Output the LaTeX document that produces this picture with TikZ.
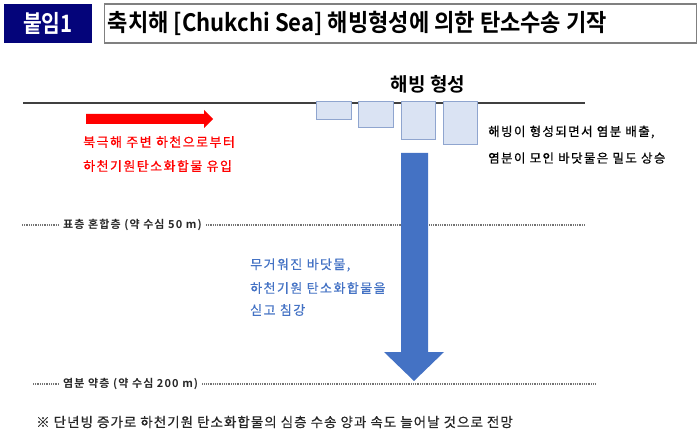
\documentclass[tikz,border=0pt]{standalone}
\usepackage{fontspec}
\setmainfont{Noto Sans CJK KR}[BoldFont={Noto Sans CJK KR Bold}]
\newfontfamily\headfont{Noto Sans CJK KR Bold}[FakeStretch=0.92]
\newfontfamily\tagfont{Noto Sans CJK KR Bold}[FakeStretch=0.85]
\newfontfamily\depthfont{Noto Sans CJK KR Bold}[LetterSpace=10]
\newfontfamily\bodyfont{Noto Sans CJK KR}[LetterSpace=11,FakeBold=0.6]
\newfontfamily\notefont{Noto Sans CJK KR}[LetterSpace=7.5,FakeBold=0.6]
\usetikzlibrary{positioning}

\definecolor{navybox}{HTML}{04047A}
\definecolor{frameedge}{HTML}{808080}
\definecolor{icefill}{HTML}{DAE3F3}
\definecolor{iceedge}{HTML}{8FA5CF}
\definecolor{sinkblue}{HTML}{4472C4}
\definecolor{riverred}{HTML}{FF0000}
\definecolor{seaedge}{HTML}{404040}

\begin{document}
\begin{tikzpicture}
    [%%%%%%%%%%%%%%%%%%%%%%%%%%%%%%
    x=1pt, y=-1pt,
    icebox/.style={rectangle,draw=iceedge,fill=icefill,line width=1pt,anchor=north west,inner sep=0pt},
    plaintext/.style={anchor=west,inner sep=0pt},
    depthtext/.style={inner sep=4pt,text=black!85,font=\depthfont\fontsize{11}{13}\selectfont},
    dotline/.style={draw=black!55,line width=1.3pt,dash pattern=on 0.9pt off 0.9pt},
    ]%%%%%%%%%%%%%%%%%%%%%%%%%%%%%%

    \useasboundingbox (0,0) rectangle (700,443);

    % title
    \node[rectangle,fill=navybox,minimum width=88,minimum height=39,inner sep=0pt] at (48,23.5)(tag){};
    \node[text=white,font=\tagfont\fontsize{24}{26}\selectfont] at (tag)(tag_text){붙임1};
    \node[rectangle,draw=frameedge,line width=1.5pt,minimum width=592,minimum height=39,inner sep=0pt] at (400.5,23.5)(titlebox){};
    \node[plaintext,font=\headfont\fontsize{24}{26}\selectfont] at ([xshift=4pt]titlebox.west)(title){축치해 [Chukchi Sea] 해빙형성에 의한 탄소수송 기작};

    % sea surface
    \coordinate (sea_w) at (23,103);
    \coordinate (sea_e) at (585,103);
    \draw[seaedge,line width=1.5pt] (sea_w) -- (sea_e);

    % sea ice
    \node[icebox,minimum width=35,minimum height=18] at (316,101)(ice1){};
    \node[icebox,minimum width=35,minimum height=26] at (358,101)(ice2){};
    \node[icebox,minimum width=34,minimum height=38] at (401,101)(ice3){};
    \node[icebox,minimum width=34,minimum height=43] at (443,101)(ice4){};
    \node[font=\bfseries\fontsize{19}{21}\selectfont,inner sep=0pt] at (428,84)(ice_text){해빙 형성};
    \node[plaintext,font=\bodyfont\fontsize{12.5}{14}\selectfont] at (488,132)(brine_a){해빙이 형성되면서 염분 배출,};
    \node[plaintext,font=\bodyfont\fontsize{12.5}{14}\selectfont] at (488,158)(brine_b){염분이 모인 바닷물은 밀도 상승};

    % river input
    \fill[riverred] (86,114) -- (204,114) -- (204,110) -- (213,119) -- (204,128) -- (204,124) -- (86,124) -- cycle;
    \node[plaintext,text=riverred,font=\bodyfont\fontsize{13}{15}\selectfont] at (83,142)(river_a){북극해 주변 하천으로부터};
    \node[plaintext,text=riverred,font=\bodyfont\fontsize{13}{15}\selectfont] at (83,166)(river_b){하천기원탄소화합물 유입};

    % mixed layer
    \coordinate (mix_w) at (22,225);
    \coordinate (mix_e) at (585,225);
    \node[depthtext,anchor=west] at (59,225)(mix_text){표층 혼합층 (약 수심 50 m)};
    \draw[dotline] (mix_w) -- (mix_text);
    \draw[dotline] (mix_text) -- (mix_e);

    % sinking water
    \fill[sinkblue] (401,153) -- (428,153) -- (428,352) -- (444,352) -- (414,381) -- (384,352) -- (401,352) -- cycle;
    \node[plaintext,text=sinkblue,font=\bodyfont\fontsize{13}{15}\selectfont] at (250,265)(sink_a){무거워진 바닷물,};
    \node[plaintext,text=sinkblue,font=\bodyfont\fontsize{13}{15}\selectfont] at (250,288)(sink_b){하천기원 탄소화합물을};
    \node[plaintext,text=sinkblue,font=\bodyfont\fontsize{13}{15}\selectfont] at (250,310)(sink_c){싣고 침강};

    % halocline
    \coordinate (halo_w) at (33,384);
    \coordinate (halo_e) at (596,384);
    \node[depthtext,anchor=west] at (59,384)(halo_text){염분 약층 (약 수심 200 m)};
    \draw[dotline] (halo_w) -- (halo_text);
    \draw[dotline] (halo_text) -- (halo_e);

    % note
    \node[plaintext,text=black!85,font=\notefont\fontsize{13.5}{15}\selectfont] at (36,422)(note){※ 단년빙 증가로 하천기원 탄소화합물의 심층 수송 양과 속도 늘어날 것으로 전망};

\end{tikzpicture}
\end{document}
